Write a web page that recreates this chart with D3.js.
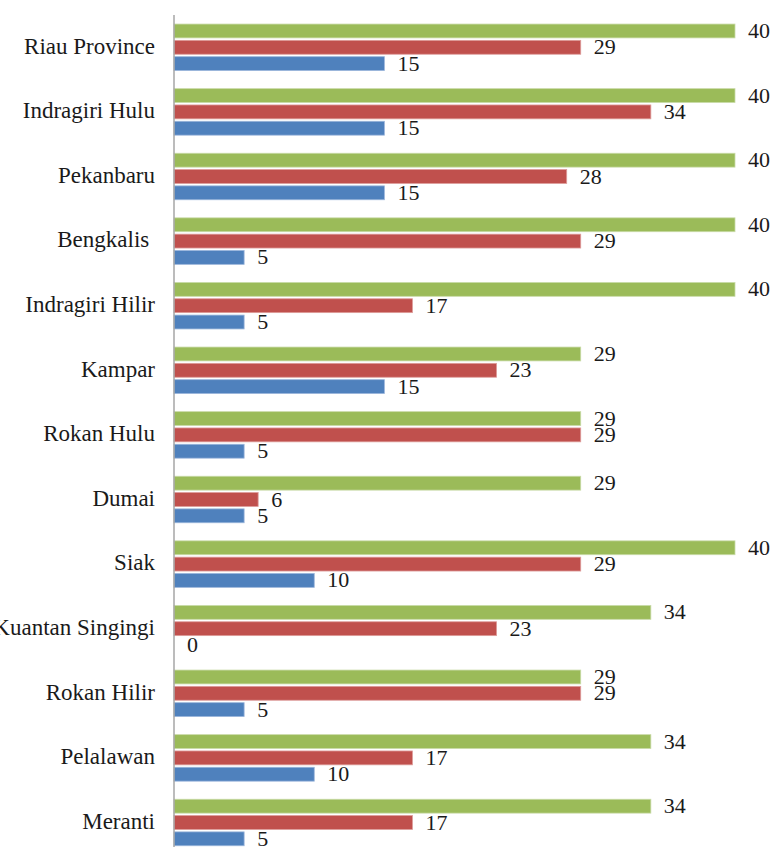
<!DOCTYPE html>
<html><head><meta charset="utf-8">
<script src="https://cdn.jsdelivr.net/npm/d3@7"></script>
<style>body{margin:0;background:#fff}svg{display:block}</style>
</head><body>
<svg id="c" width="771" height="847"></svg>
<script>
const categories = ["Riau Province","Indragiri Hulu","Pekanbaru","Bengkalis ","Indragiri Hilir","Kampar","Rokan Hulu","Dumai","Siak","Kuantan Singingi","Rokan Hilir","Pelalawan","Meranti"];
const seriesNames = ["green","red","blue"];
const greenValues = [40,40,40,40,40,29,29,29,40,34,29,34,34];
const redValues   = [29,34,28,29,17,23,29,6,29,23,29,17,17];
const blueValues  = [15,15,15,5,5,15,5,5,10,0,5,10,5];
const colors = {green:"#9BBB59", red:"#C0504D", blue:"#4F81BD"};
const edges = {green:"#c9dba8", red:"#dd9c9a", blue:"#9bb6db"};
const FONT = '"Liberation Serif", "Times New Roman", Tinos, serif';

const svg = d3.select("#c");
const x = d3.scaleLinear().domain([0,40]).range([174,735]);
const y0 = d3.scaleBand().domain(categories).range([15,854.8]).paddingInner(0.28).paddingOuter(0.14);
const y1 = d3.scaleBand().domain(seriesNames).range([0,y0.bandwidth()]).paddingInner(0.15);

const data = categories.map((c,i)=>({cat:c, vals:[
  {s:"green", v:greenValues[i]},{s:"red", v:redValues[i]},{s:"blue", v:blueValues[i]}]}));

const g = svg.selectAll("g.grp").data(data).join("g").attr("class","grp")
  .attr("transform", d=>`translate(0,${y0(d.cat)})`);

g.selectAll("rect").data(d=>d.vals).join("rect")
  .attr("x", x(0)).attr("y", d=>y1(d.s))
  .attr("width", d=>x(d.v)-x(0)).attr("height", y1.bandwidth())
  .attr("fill", d=>colors[d.s])
  .attr("stroke", d=>d.v>0?edges[d.s]:"none").attr("stroke-width",0.8);

g.selectAll("text.val").data(d=>d.vals).join("text").attr("class","val")
  .attr("x", d=>x(d.v)+13).attr("y", d=>y1(d.s)+y1.bandwidth()/2+2)
  .attr("dominant-baseline","middle")
  .style("font-family",FONT).style("font-size","22px").attr("fill","#1a1a1a")
  .text(d=>d.v);

svg.selectAll("text.cat").data(categories).join("text").attr("class","cat")
  .attr("x",155).attr("y", d=>y0(d)+y0.bandwidth()/2+1)
  .attr("text-anchor","end").attr("dominant-baseline","middle")
  .style("font-family",FONT).style("font-size","23px").attr("fill","#1a1a1a")
  .style("white-space","pre")
  .text(d=>d);

svg.append("line").attr("x1",x(0)).attr("x2",x(0)).attr("y1",15).attr("y2",854.8)
  .attr("stroke","#a6a6a6").attr("stroke-width",1.5);
</script>
</body></html>
